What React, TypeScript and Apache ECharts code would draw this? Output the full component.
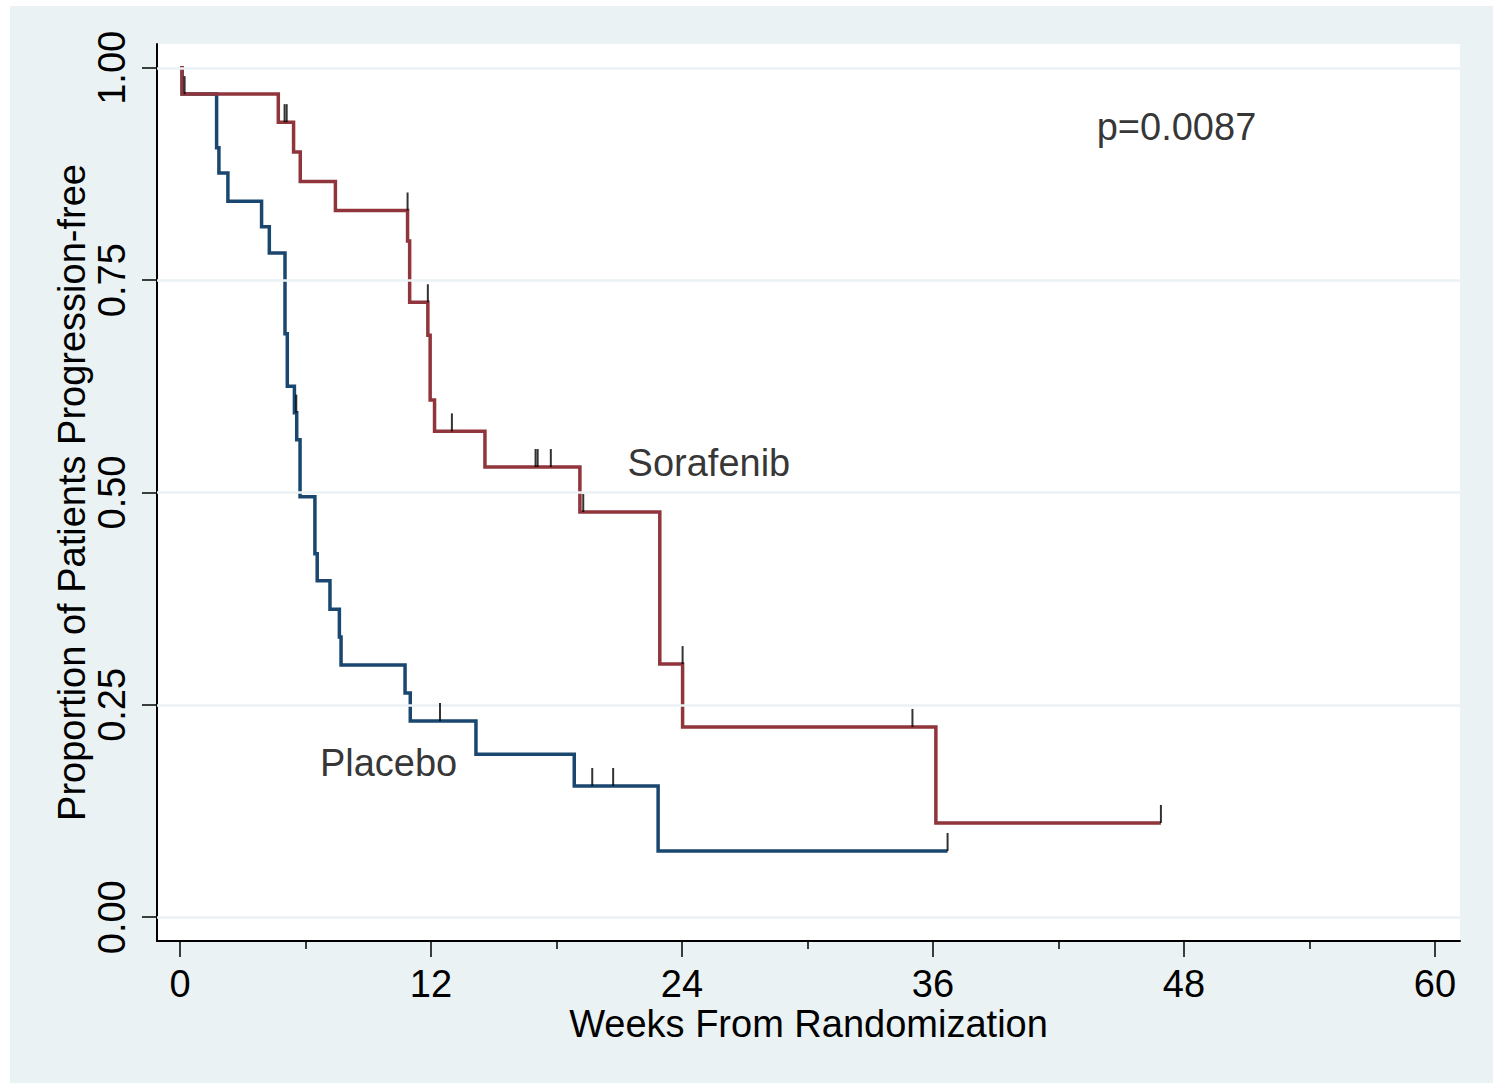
import React, { useEffect, useRef } from "react";
import * as echarts from "echarts";

// Kaplan-Meier step points: [weeks, proportion]
const sorafenibSteps: [number, number][] = [
  [0, 1.0], [0.1, 0.969], [4.7, 0.936], [5.43, 0.901], [5.75, 0.866], [7.43, 0.832],
  [10.88, 0.796], [10.98, 0.724], [11.85, 0.685], [11.96, 0.609], [12.17, 0.572],
  [14.58, 0.53], [19.12, 0.477], [22.94, 0.298], [24.03, 0.224], [36.14, 0.111], [46.9, 0.111],
];
const placeboSteps: [number, number][] = [
  [0, 1.0], [0.1, 0.969], [1.75, 0.906], [1.86, 0.876], [2.29, 0.843], [3.9, 0.813],
  [4.27, 0.782], [5.02, 0.687], [5.13, 0.625], [5.47, 0.594], [5.58, 0.562], [5.74, 0.495],
  [6.45, 0.428], [6.56, 0.396], [7.17, 0.3625], [7.62, 0.33], [7.7, 0.297], [10.76, 0.264],
  [11.01, 0.231], [14.15, 0.192], [18.85, 0.1545], [22.86, 0.078], [36.7, 0.078],
];
// Censoring marks
const sorafenibCensored: [number, number][] = [
  [0.22, 0.969], [5.0, 0.936], [5.1, 0.936], [10.88, 0.832], [11.85, 0.724], [13.0, 0.572],
  [17.0, 0.53], [17.1, 0.53], [17.73, 0.53], [19.28, 0.477], [24.03, 0.298], [35.02, 0.224],
  [46.9, 0.111],
];
const placeboCensored: [number, number][] = [
  [5.56, 0.594], [12.43, 0.231], [19.71, 0.1545], [20.71, 0.1545], [36.7, 0.078],
];

const xTicks = [0, 12, 24, 36, 48, 60];
const xMinorTicks = [6, 18, 30, 42, 54];
const yTicks = [0, 0.25, 0.5, 0.75, 1.0];

const annotationTexts = ["Sorafenib", "Placebo", "p=0.0087"];
const annotationX = [21.4, 6.69, 43.83];
const annotationY = [0.535, 0.181, 0.93];

const FONT = "'Liberation Sans', Arial, Helvetica, sans-serif";
const FS = 38;
const NAVY = "#1a476f";
const MAROON = "#90353b";
const BG = "#eaf2f3";

export default function App() {
  const ref = useRef<HTMLDivElement>(null);
  useEffect(() => {
    if (!ref.current) return;
    const chart = echarts.init(ref.current, undefined, { renderer: "svg" });
    const censorSeries = (name: string, data: [number, number][]) => ({
      name,
      type: "scatter",
      data,
      symbol: "rect",
      symbolSize: [2, 18],
      symbolOffset: [0, -9],
      itemStyle: { color: "#000" },
      silent: true,
      z: 5,
    });
    chart.setOption({
      animation: false,
      backgroundColor: "#ffffff",
      textStyle: { fontFamily: FONT },
      graphic: [
        {
          type: "rect",
          shape: { x: 10, y: 6, width: 1483, height: 1077 },
          style: { fill: BG },
          z: -10,
          silent: true,
        },
      ],
      grid: {
        left: 157,
        top: 44,
        right: 33,
        bottom: 142,
        show: true,
        backgroundColor: "#ffffff",
        borderWidth: 0,
        containLabel: false,
      },
      xAxis: [
        {
          type: "value",
          min: -1.1,
          max: 61.2,
          name: "Weeks From Randomization",
          nameLocation: "middle",
          nameGap: 66,
          nameMoveOverlap: false,
          nameTextStyle: { fontSize: FS, lineHeight: 34, color: "#000", fontFamily: FONT },
          axisLine: { show: true, onZero: false, lineStyle: { color: "#000", width: 2 } },
          axisTick: { show: true, customValues: xTicks, length: 16, lineStyle: { color: "#000", width: 1.5 } },
          axisLabel: {
            customValues: xTicks,
            fontSize: FS,
            lineHeight: 34,
            color: "#000",
            margin: 26,
            fontFamily: FONT,
          },
          splitLine: { show: false },
        },
        {
          type: "value",
          min: -1.1,
          max: 61.2,
          position: "bottom",
          offset: 0,
          axisLine: { show: false, onZero: false },
          axisTick: { show: true, inside: false, customValues: xMinorTicks, length: 8, lineStyle: { color: "#000", width: 1.5 } },
          axisLabel: { show: false },
          splitLine: { show: false },
        },
      ],
      yAxis: {
        type: "value",
        min: -0.028,
        max: 1.028,
        name: "Proportion of Patients Progression-free",
        nameLocation: "middle",
        nameGap: 66,
        nameMoveOverlap: false,
        nameTextStyle: { fontSize: FS, color: "#000", fontFamily: FONT },
        axisLine: { show: true, onZero: false, lineStyle: { color: "#000", width: 2 } },
        axisTick: { show: true, customValues: yTicks, length: 15, lineStyle: { color: "#000", width: 1.5 } },
        axisLabel: {
          customValues: yTicks,
          rotate: 90,
          fontSize: FS,
          color: "#000",
          margin: 26,
          fontFamily: FONT,
          formatter: (v: number) => v.toFixed(2),
        },
        splitLine: { show: false },
      },
      series: [
        {
          name: "gridlines",
          type: "line",
          data: [],
          silent: true,
          markLine: {
            silent: true,
            symbol: "none",
            label: { show: false },
            lineStyle: { color: BG, width: 2.5, type: "solid" },
            data: yTicks.map((v) => ({ yAxis: v })),
          },
          z: 1,
        },
        {
          name: "Placebo",
          type: "line",
          step: "end",
          data: placeboSteps,
          showSymbol: false,
          symbol: "none",
          lineStyle: { color: NAVY, width: 3.5, join: "miter", cap: "butt" },
          z: 3,
        },
        {
          name: "Sorafenib",
          type: "line",
          step: "end",
          data: sorafenibSteps,
          showSymbol: false,
          symbol: "none",
          lineStyle: { color: MAROON, width: 3.5, join: "miter", cap: "butt" },
          z: 4,
        },
        censorSeries("Placebo censored", placeboCensored),
        censorSeries("Sorafenib censored", sorafenibCensored),
        {
          name: "annotations",
          type: "scatter",
          symbolSize: 0,
          silent: true,
          data: annotationTexts.map((t, i) => ({ value: [annotationX[i], annotationY[i]], name: t })),
          label: {
            show: true,
            position: "right",
            distance: 0,
            formatter: (p: any) => p.name,
            fontSize: FS,
            color: "#000",
            fontFamily: FONT,
          },
          z: 6,
        },
      ],
    });
    return () => chart.dispose();
  }, []);
  return (
    <div
      ref={ref}
      style={{ position: "fixed", left: 0, top: 0, width: 1493, height: 1083 }}
    />
  );
}
